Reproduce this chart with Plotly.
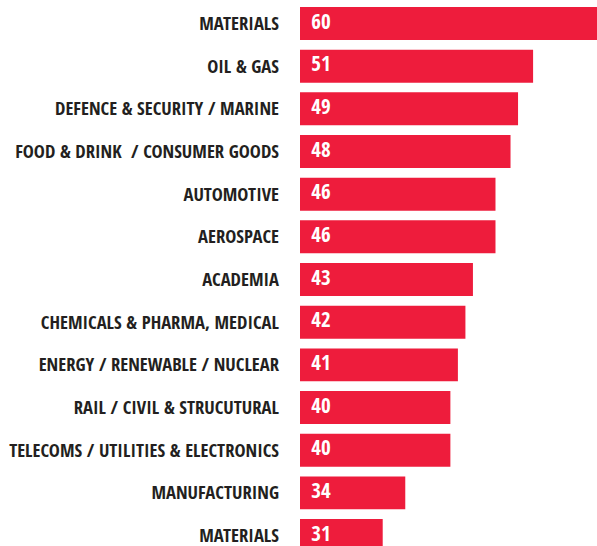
import plotly.graph_objects as go

# Sector labels, top to bottom, and their counts
sectors = [
    "MATERIALS",
    "OIL & GAS",
    "DEFENCE & SECURITY / MARINE",
    "FOOD & DRINK &nbsp;/ CONSUMER GOODS",
    "AUTOMOTIVE",
    "AEROSPACE",
    "ACADEMIA",
    "CHEMICALS & PHARMA, MEDICAL",
    "ENERGY / RENEWABLE / NUCLEAR",
    "RAIL / CIVIL & STRUCUTURAL",
    "TELECOMS / UTILITIES & ELECTRONICS",
    "MANUFACTURING",
    "MATERIALS",
]
counts = [60, 51, 49, 48, 46, 46, 43, 42, 41, 40, 40, 34, 31]

positions = list(range(len(sectors)))

RED = "#EE1C3C"
INK = "#231F20"
FONT = "Open Sans Condensed, Roboto Condensed, DejaVu Sans Condensed, sans-serif"
X_START = 20
X_END = 59.5
LABEL_PAD = 1.5  # inset of the value label from the bar's visible start, in axis units

fig = go.Figure()

fig.add_trace(
    go.Bar(
        x=counts,
        y=positions,
        orientation="h",
        width=0.773,
        marker=dict(color=RED, line=dict(width=0)),
        hoverinfo="skip",
    )
)

# Value labels sit just inside the left end of each bar
fig.add_trace(
    go.Scatter(
        x=[X_START + LABEL_PAD] * len(counts),
        y=positions,
        mode="text",
        text=[str(c) for c in counts],
        textposition="middle right",
        textfont=dict(family=FONT, size=21, color="white", weight="bold"),
        cliponaxis=False,
        hoverinfo="skip",
    )
)

fig.update_layout(
    width=597,
    height=546,
    margin=dict(l=300, r=0, t=0, b=0, autoexpand=False),
    paper_bgcolor="white",
    plot_bgcolor="white",
    showlegend=False,
)

fig.update_xaxes(
    range=[X_START, X_END],
    visible=False,
    showgrid=False,
    zeroline=False,
)

fig.update_yaxes(
    range=[12.245, -0.551],
    tickmode="array",
    tickvals=positions,
    ticktext=sectors,
    tickfont=dict(family=FONT, size=18.6, color=INK, weight="bold"),
    showgrid=False,
    zeroline=False,
    showline=False,
    ticks="",
    ticklabelstandoff=20,
    ticklabeloverflow="allow",
    automargin=False,
)

fig.write_html("out.html")
